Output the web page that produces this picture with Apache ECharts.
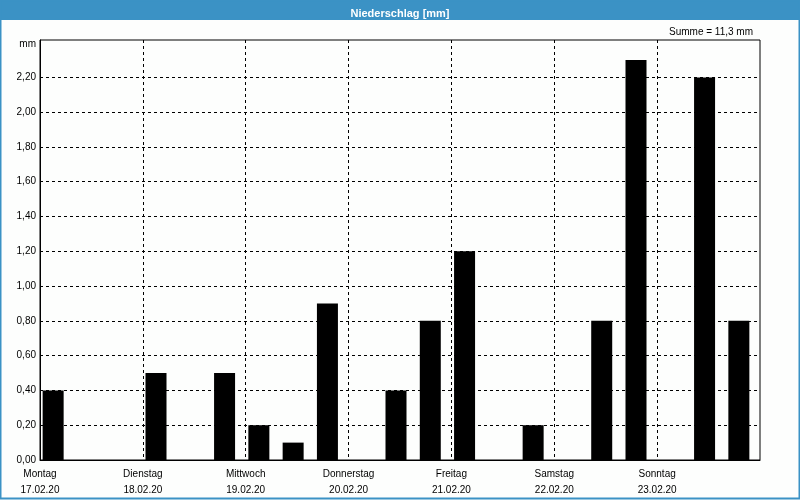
<!DOCTYPE html>
<html><head><meta charset="utf-8">
<script src="https://cdn.jsdelivr.net/npm/echarts@6/dist/echarts.min.js"></script>
<style>html,body{margin:0;padding:0;background:#fff}#c{width:800px;height:500px}</style>
</head><body><div id="c"></div>
<script>
// 8-hour slots, 3 per day, 7 days
const slots = ['Mo 00','Mo 08','Mo 16','Di 00','Di 08','Di 16','Mi 00','Mi 08','Mi 16','Do 00','Do 08','Do 16','Fr 00','Fr 08','Fr 16','Sa 00','Sa 08','Sa 16','So 00','So 08','So 16'];
const rain = [0.4,'-','-',0.5,'-',0.5,0.2,0.1,0.9,'-',0.4,0.8,1.2,'-',0.2,'-',0.8,2.3,'-',2.2,0.8];
const dayNames = ['Montag','Dienstag','Mittwoch','Donnerstag','Freitag','Samstag','Sonntag'];
const dayDates = ['17.02.20','18.02.20','19.02.20','20.02.20','21.02.20','22.02.20','23.02.20'];
const yTicks = ['0,00','0,20','0,40','0,60','0,80','1,00','1,20','1,40','1,60','1,80','2,00','2,20'];
const gridValues = [0.2,0.4,0.6,0.8,1.0,1.2,1.4,1.6,1.8,2.0,2.2];
const yUnit = 'mm';
const numbers = rain.filter(v => typeof v === 'number');
const total = numbers.reduce((a,b)=>a+b,0);
const yMax = Math.max(...numbers) * 1.05;

const FONT = 'Liberation Sans';
const chart = echarts.init(document.getElementById('c'), null, {renderer:'canvas'});
chart.setOption({
  animation:false,
  backgroundColor:'#fdfefd',
  textStyle:{fontFamily:FONT},
  graphic:[
    {type:'rect', shape:{x:0,y:0,width:800,height:20}, style:{fill:'#3b92c5'}, z:0},
    {type:'rect', shape:{x:0.5,y:0.5,width:799,height:498}, style:{fill:'none',stroke:'#3b92c5',lineWidth:2}, z:0},
    {type:'text', right:764, top:39, style:{text:yUnit, fill:'#000', font:'10px ' + FONT}}
  ],
  title:[
    {text:'Niederschlag [mm]', left:'center', top:3, textStyle:{color:'#fff',fontSize:11,fontWeight:'bold',fontFamily:FONT}},
    {text:'Summe = ' + total.toFixed(1).replace('.',',') + ' mm', right:42, top:22, textStyle:{color:'#000',fontSize:10,fontWeight:'normal',fontFamily:FONT}}
  ],
  grid:{left:40, right:40, top:40, bottom:40, show:true, borderColor:'#000', borderWidth:1, backgroundColor:'transparent'},
  xAxis:[
    {type:'category', data:slots, show:false, boundaryGap:true},
    {type:'value', min:0, max:21, interval:3, position:'bottom',
     axisLine:{show:true, lineStyle:{color:'#000'}},
     axisTick:{show:false},
     splitLine:{show:true, showMinLine:false, showMaxLine:false, lineStyle:{color:'#000', type:[3,3], width:1}},
     axisLabel:{color:'#000', fontSize:10, margin:6, lineHeight:16,
       formatter:v => { const i=Math.round(v/3); return i<dayNames.length ? dayNames[i]+'\n'+dayDates[i] : ''; }}}
  ],
  yAxis:{type:'value', min:0, max:yMax, interval:0.2,
    axisLine:{show:true, lineStyle:{color:'#000'}},
    axisTick:{show:false},
    splitLine:{show:false},
    axisLabel:{color:'#000', fontSize:10, margin:4, showMaxLabel:false,
      formatter:v => { const i=Math.round(v/0.2); return Math.abs(v - i*0.2) < 1e-6 && i < yTicks.length ? yTicks[i] : ''; } }},
  series:[
    {type:'bar', xAxisIndex:0, data:rain, barWidth:21, barGap:'0%', itemStyle:{color:'#000'}, z:3,
     markLine:{silent:true, symbol:'none', label:{show:false}, animation:false, z:1,
       lineStyle:{color:'#000', type:[3,3], width:1},
       data:gridValues.map(v => ({yAxis:v}))}},
    {type:'bar', xAxisIndex:0, data:rain.map(()=>'-'), barWidth:8, barGap:'0%'}
  ]
});
</script></body></html>
